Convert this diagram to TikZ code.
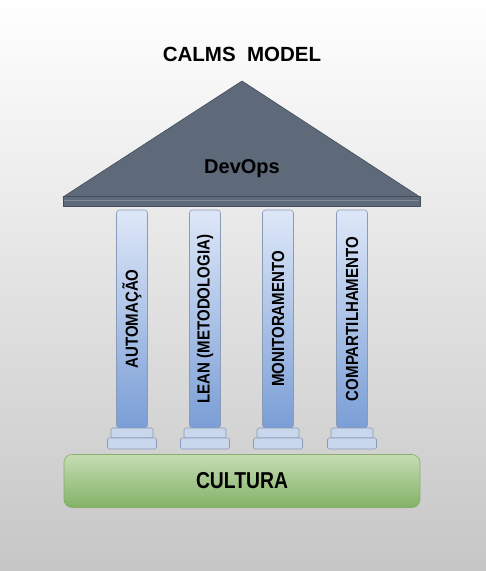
\documentclass[tikz,border=0pt]{standalone}
\usepackage{fontspec}
\setmainfont{Liberation Sans}
\definecolor{roofgray}{RGB}{94,106,121}
\definecolor{roofedge}{RGB}{68,77,90}
\definecolor{slabline}{RGB}{128,140,156}
\definecolor{pillartop}{RGB}{222,231,248}
\definecolor{pillarbottom}{RGB}{122,158,214}
\definecolor{pillaredge}{RGB}{138,155,184}
\definecolor{stepfill}{RGB}{201,215,236}
\definecolor{culturetop}{RGB}{198,220,180}
\definecolor{culturebottom}{RGB}{130,178,102}
\definecolor{cultureedge}{RGB}{136,174,110}
\definecolor{backbottom}{RGB}{198,198,198}
\usetikzlibrary{positioning}
\newcommand{\narrow}[1]{\scalebox{0.86}[1]{#1}}

\begin{document}
\begin{tikzpicture}[x=1pt,y=-1pt,every node/.style={inner sep=0pt,outer sep=0pt},
    roof/.style={draw=roofedge,fill=roofgray,line width=0.6pt,line join=round},
    pillar/.style={draw=pillaredge,top color=pillartop,bottom color=pillarbottom,line width=0.6pt,
        rounded corners=3pt,minimum width=31pt,minimum height=218pt},
    pillartext/.style={rotate=90,font=\bfseries\fontsize{17.5}{20}\selectfont},
    topstep/.style={draw=pillaredge,fill=stepfill,line width=0.6pt,rounded corners=1.5pt,
        minimum width=42pt,minimum height=10pt,below=0pt of #1},
    lowstep/.style={draw=pillaredge,fill=stepfill,line width=0.6pt,rounded corners=1.5pt,
        minimum width=49pt,minimum height=11pt,below=0pt of #1}]
        % background
        \useasboundingbox (0,0) rectangle (486,571);
        \shade[top color=white,middle color=white!88!backbottom,bottom color=backbottom] (0,0) rectangle (486,571);
        \node[anchor=base,font=\bfseries\fontsize{20.5}{24}\selectfont] (title) at (242,61) {CALMS\ \ MODEL};
        % roof
        \draw[roof] (63,197) -- (242,81) -- (420,197) -- cycle;
        \draw[roof] (63,196) rectangle (420,206);
        \draw[slabline,line width=0.8pt] (64,200) -- (419,200);
        \node[anchor=base,font=\bfseries\fontsize{20}{24}\selectfont] (devops) at (242,173) {DevOps};
        % pillars
        \node[pillar] (automacao) at (132,319) {};
        \node[topstep=automacao] (automacao cap) {};
        \node[lowstep=automacao cap] (automacao base) {};
        \node[pillartext] at (automacao.center) {\narrow{AUTOMAÇÃO}};
        \node[pillar] (lean) at (205,319) {};
        \node[topstep=lean] (lean cap) {};
        \node[lowstep=lean cap] (lean base) {};
        \node[pillartext] at (lean.center) {\narrow{LEAN (METODOLOGIA)}};
        \node[pillar] (monitoramento) at (278,319) {};
        \node[topstep=monitoramento] (monitoramento cap) {};
        \node[lowstep=monitoramento cap] (monitoramento base) {};
        \node[pillartext] at (monitoramento.center) {\narrow{MONITORAMENTO}};
        \node[pillar] (compartilhamento) at (352,319) {};
        \node[topstep=compartilhamento] (compartilhamento cap) {};
        \node[lowstep=compartilhamento cap] (compartilhamento base) {};
        \node[pillartext] at (compartilhamento.center) {\narrow{COMPARTILHAMENTO}};
        % foundation
        \node[draw=cultureedge,top color=culturetop,bottom color=culturebottom,line width=0.6pt,
            rounded corners=8pt,minimum width=356pt,minimum height=53pt,
            font=\bfseries\fontsize{23}{26}\selectfont] (cultura) at (242,481) {\scalebox{0.84}[1]{CULTURA}};
    \end{tikzpicture}
\end{document}
